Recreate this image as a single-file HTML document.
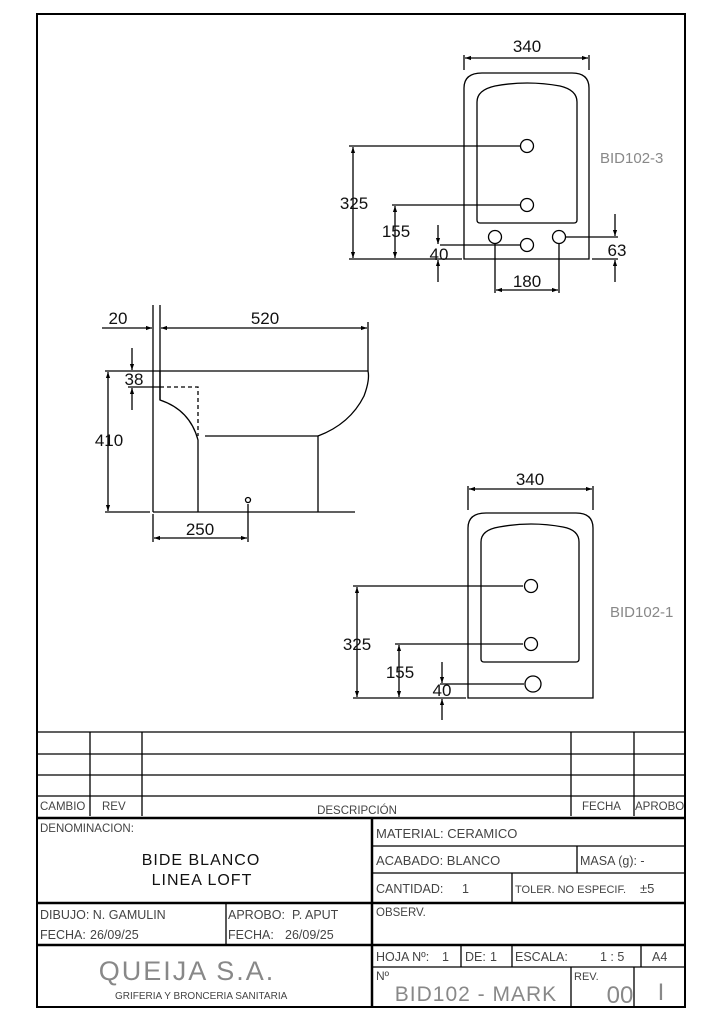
<!DOCTYPE html>
<html><head><meta charset="utf-8"><style>
html,body{margin:0;padding:0;background:#fff}
svg{display:block}
text{font-family:"Liberation Sans",sans-serif}
.d{font-size:17px;fill:#111}
.t{font-size:11.5px;fill:#444}
</style></head><body>
<svg width="724" height="1024" viewBox="0 0 724 1024" xmlns="http://www.w3.org/2000/svg">
<defs>
<marker id="a" viewBox="0 0 10 10" refX="10" refY="5" markerWidth="10" markerHeight="6" orient="auto-start-reverse" markerUnits="userSpaceOnUse"><path d="M0,1.5 L10,5 L0,8.5z" fill="#000"/></marker>
</defs>
<rect x="37" y="14" width="648" height="993" fill="none" stroke="#000" stroke-width="2"/>
<g stroke="#000" stroke-width="1.3" fill="none">
<path d="M464,259 V88 Q464,73 482,73 H572 Q589,73 589,88 V259 Z"/>
<path d="M477,220 V102 Q477,90 495,86 Q527,80 560,86 Q577,90 577,102 V220 Q577,223 574,223 H480 Q477,223 477,220 Z"/>
<circle cx="527" cy="146" r="6.5"/><circle cx="527" cy="205" r="6.5"/>
<circle cx="495" cy="237" r="6.5"/><circle cx="527" cy="245" r="6.5"/><circle cx="559" cy="237" r="6.5"/>
<path d="M464,55 V70 M589,55 V70"/>
<line x1="465" y1="58" x2="588" y2="58" marker-start="url(#a)" marker-end="url(#a)"/>
<path d="M349,146 H520 M349,259 H462 M392,205 H520 M440,245 H520"/>
<line x1="353" y1="147" x2="353" y2="258" marker-start="url(#a)" marker-end="url(#a)"/>
<line x1="395" y1="206" x2="395" y2="258" marker-start="url(#a)" marker-end="url(#a)"/>
<line x1="438" y1="225" x2="438" y2="244" marker-end="url(#a)"/><line x1="438" y1="282" x2="438" y2="260" marker-end="url(#a)"/>
<path d="M495,244 V293 M559,244 V293"/>
<line x1="496" y1="290" x2="558" y2="290" marker-start="url(#a)" marker-end="url(#a)"/>
<path d="M566,237 H618 M592,259 H618"/>
<line x1="615" y1="214" x2="615" y2="236" marker-end="url(#a)"/><line x1="615" y1="282" x2="615" y2="260" marker-end="url(#a)"/>
<path d="M153,305 V512 M160,305 V400"/>
<line x1="102" y1="328" x2="152" y2="328" marker-end="url(#a)"/>
<line x1="161" y1="328" x2="367" y2="328" marker-start="url(#a)" marker-end="url(#a)"/>
<path d="M368,322 V371 M105,371 H368"/>
<path d="M368,371 Q370,380 364,396 Q350,424 318,436"/>
<path d="M160,371 V400 Q190,410 198,440 V512"/>
<path d="M160,387 H198 V436" stroke-dasharray="4,3"/>
<path d="M205,436 H318 V512 M153,512 H355 M105,512 H150"/>
<circle cx="248" cy="500" r="2.5"/>
<path d="M153,514 V542 M248,504 V542"/>
<line x1="154" y1="538" x2="247" y2="538" marker-start="url(#a)" marker-end="url(#a)"/>
<line x1="108" y1="372" x2="108" y2="511" marker-start="url(#a)" marker-end="url(#a)"/>
<path d="M128,387 H160"/>
<line x1="132" y1="348" x2="132" y2="370" marker-end="url(#a)"/><line x1="132" y1="410" x2="132" y2="388" marker-end="url(#a)"/>
<path d="M468,698 V528 Q468,513 486,513 H576 Q593,513 593,528 V698 Z"/>
<path d="M481,659 V542 Q481,530 499,527 Q531,521 563,527 Q579,530 579,542 V659 Q579,662 576,662 H484 Q481,662 481,659 Z"/>
<circle cx="531" cy="586" r="6.5"/><circle cx="531" cy="644" r="6.5"/><circle cx="533" cy="684" r="8"/>
<path d="M468,486 V510 M593,486 V510"/>
<line x1="469" y1="489" x2="592" y2="489" marker-start="url(#a)" marker-end="url(#a)"/>
<path d="M353,586 H523 M353,698 H466 M395,644 H523 M440,684 H524"/>
<line x1="357" y1="587" x2="357" y2="697" marker-start="url(#a)" marker-end="url(#a)"/>
<line x1="399" y1="645" x2="399" y2="697" marker-start="url(#a)" marker-end="url(#a)"/>
<line x1="442" y1="662" x2="442" y2="683" marker-end="url(#a)"/><line x1="442" y1="720" x2="442" y2="699" marker-end="url(#a)"/>
</g>
<g class="d" text-anchor="middle">
<text x="527" y="52">340</text><text x="354" y="209">325</text><text x="396" y="237">155</text><text x="439" y="260">40</text>
<text x="527" y="287">180</text><text x="617" y="256">63</text>
<text x="118" y="324">20</text><text x="265" y="324">520</text><text x="134" y="385">38</text><text x="109" y="446">410</text><text x="200" y="535">250</text>
<text x="530" y="485">340</text><text x="357" y="650">325</text><text x="400" y="678">155</text><text x="442" y="696">40</text>
</g>
<g font-family="Liberation Serif,serif" fill="#888" font-size="15">
<text x="600" y="163">BID102-3</text><text x="610" y="617">BID102-1</text>
</g>
<g stroke="#000" fill="none">
<path stroke-width="1.3" d="M37,732 H685 M37,754 H685 M37,775 H685 M37,796 H685 M90,732 V816 M142,732 V816 M571,732 V816 M634,732 V816"/>
<path stroke-width="2.5" d="M37,818 H685 M37,903 H685 M37,945 H685 M372,818 V1007"/>
<path stroke-width="1.3" d="M372,846 H685 M372,873 H685 M577,846 V873 M512,873 V903 M226,903 V945 M372,967 H685 M461,945 V967 M512,945 V967 M641,945 V967 M571,967 V1007 M634,967 V1007"/>
</g>
<g class="t">
<text x="40" y="810">CAMBIO</text><text x="102" y="810">REV</text><text x="357" y="814" text-anchor="middle">DESCRIPCIÓN</text>
<text x="582" y="810">FECHA</text><text x="635" y="810">APROBO</text>
<text x="40" y="832">DENOMINACION:</text>
<text x="376" y="838" font-size="13">MATERIAL: CERAMICO</text>
<text x="376" y="865" font-size="13">ACABADO: BLANCO</text><text x="580" y="865" font-size="12.5">MASA (g): -</text>
<text x="376" y="893" font-size="12.5">CANTIDAD:</text><text x="462" y="893" font-size="12.5">1</text>
<text x="515" y="893" font-size="11">TOLER. NO ESPECIF.</text><text x="640" y="893" font-size="13">±5</text>
<text x="40" y="919" font-size="12.5">DIBUJO: N. GAMULIN</text><text x="40" y="939" font-size="12.5">FECHA:</text><text x="90" y="939" font-size="12.5">26/09/25</text>
<text x="228" y="919" font-size="12.5">APROBO:</text><text x="292" y="919" font-size="12.5">P. APUT</text>
<text x="228" y="939" font-size="12.5">FECHA:</text><text x="285" y="939" font-size="12.5">26/09/25</text>
<text x="376" y="916">OBSERV.</text>
<text x="376" y="961" font-size="12.5">HOJA Nº:</text><text x="442" y="961" font-size="12.5">1</text>
<text x="465" y="961" font-size="12.5">DE:</text><text x="490" y="961" font-size="12.5">1</text>
<text x="515" y="961" font-size="12.5">ESCALA:</text><text x="600" y="961" font-size="12.5">1 : 5</text><text x="652" y="961" font-size="12.5">A4</text>
<text x="376" y="980" font-size="12">Nº</text><text x="574" y="980" font-size="11">REV.</text>
<text x="115" y="999" font-size="10">GRIFERIA Y BRONCERIA SANITARIA</text>
</g>
<g text-anchor="middle" fill="#111" font-size="16" font-family="Liberation Sans,sans-serif" letter-spacing="1">
<text x="201" y="865">BIDE BLANCO</text><text x="202" y="885">LINEA LOFT</text>
</g>
<g text-anchor="middle" fill="#888" font-family="Liberation Sans,sans-serif">
<text x="187" y="980" font-size="27" letter-spacing="2">QUEIJA S.A.</text>
<text x="476" y="1001" font-size="21" letter-spacing="1">BID102 - MARK</text>
<text x="620" y="1003" font-size="24">00</text>
<text x="661" y="1000" font-size="24" font-family="Liberation Serif,serif">I</text>
</g>
</svg>
</body></html>
